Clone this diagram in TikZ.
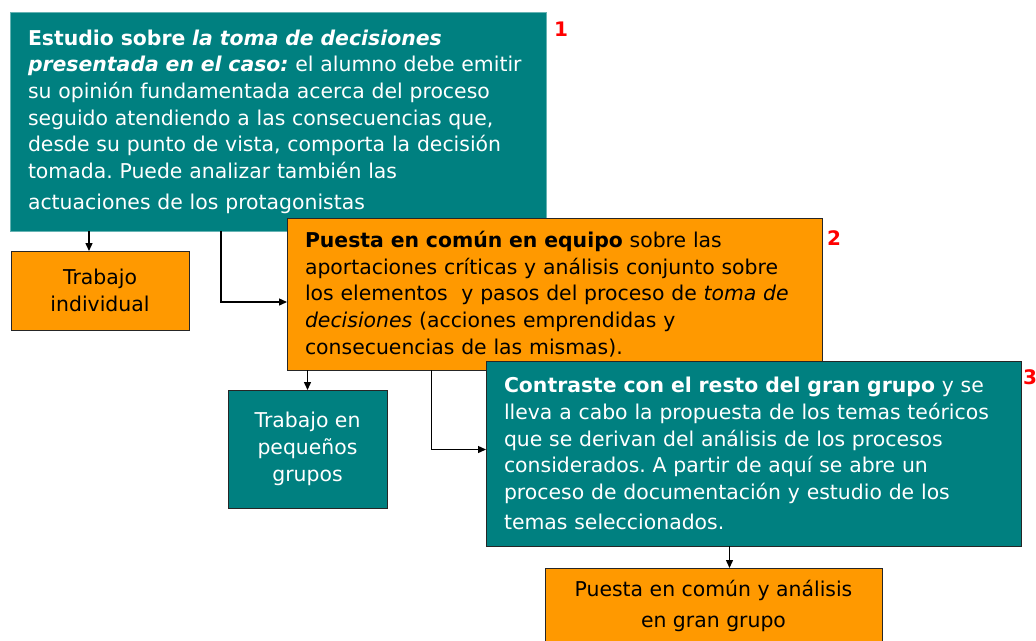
\documentclass[tikz,border=0pt]{standalone}
\usepackage{fontspec}
\setmainfont{DejaVu Sans}
\usepackage{xcolor}
\usepackage{tikz}
\usetikzlibrary{positioning,arrows.meta}
\definecolor{tealbg}{RGB}{0,128,128}
\definecolor{orangebg}{RGB}{255,153,0}
\definecolor{numred}{RGB}{255,0,0}
\frenchspacing

\begin{document}
\begin{tikzpicture}[x=1pt,y=-1pt,
    txt/.style={font=\fontsize{20.4}{26.7}\selectfont},
    bigbox/.style={txt, anchor=north west, align=left, inner xsep=18pt, inner ysep=0pt, outer sep=0pt},
    smallbox/.style={txt, anchor=north west, align=center, inner sep=0pt, outer sep=0pt, draw=black!85, line width=1pt},
    tealbox/.style={fill=tealbg, text=white},
    orangebox/.style={fill=orangebg, text=black},
    num/.style={text=numred, font=\fontsize{20}{24}\bfseries\selectfont, inner sep=0pt},
    arr/.style={line width=1.4pt, -{Triangle[length=8pt,width=7pt]}}]
    \useasboundingbox (0,0) rectangle (1036,640);
    \clip (0,0) rectangle (1036,640);
    \node[bigbox, tealbox, draw=tealbg!60!white, line width=0.8pt, text width=500pt, minimum height=219pt] (estudio) at (10,12)
        {\textbf{Estudio sobre \textit{la toma de decisiones}}\\
         \textbf{\textit{presentada en el caso:}} el alumno debe emitir\\
         su opinión fundamentada acerca del proceso\\
         seguido atendiendo a las consecuencias que,\\
         desde su punto de vista, comporta la decisión\\
         tomada. Puede analizar también las\\[4pt]
         actuaciones de los protagonistas};
    \node[num, anchor=west] (num1) at (554,29) {1};
    \node[smallbox, orangebox, minimum width=178pt, minimum height=79pt] (indiv) at (11,251) {Trabajo\\individual};
    \node[bigbox, orangebox, draw=black!85, line width=1pt, text width=499pt, minimum height=152pt] (puesta) at (287,218)
        {\textbf{Puesta en común en equipo} sobre las\\
         aportaciones críticas y análisis conjunto sobre\\
         los elementos\ \ y pasos del proceso de \textit{toma de}\\
         \textit{decisiones} (acciones emprendidas y\\
         consecuencias de las mismas).};
    \node[num, anchor=west] (num2) at (827,238) {2};
    \node[smallbox, tealbox, minimum width=159pt, minimum height=118pt] (pequenos) at (228,390) {Trabajo en\\pequeños\\grupos};
    \node[bigbox, tealbox, draw=black!85, line width=1pt, text width=499pt, minimum height=185pt] (contraste) at (486,361)
        {\textbf{Contraste con el resto del gran grupo} y se\\
         lleva a cabo la propuesta de los temas teóricos\\
         que se derivan del análisis de los procesos\\
         considerados. A partir de aquí se abre un\\
         proceso de documentación y estudio de los\\[3pt]
         temas seleccionados.};
    \node[num, anchor=west] (num3) at (1023,377) {3};
    \node[smallbox, orangebox, minimum width=337pt, minimum height=76pt] (grangrupo) at (545,568) {Puesta en común y análisis\\[5pt]en gran grupo};
    \draw[arr] ([xshift=-11pt]indiv.north |- estudio.south) -- ([xshift=-11pt]indiv.north);
    \draw[arr] ([xshift=-57pt]estudio.south) |- ([yshift=-8pt]puesta.west);
    \draw[arr] (pequenos.north |- puesta.south) -- (pequenos.north);
    \draw[arr] ([xshift=-123pt]puesta.south) |- ([yshift=4pt]contraste.west);
    \draw[arr] ([xshift=16pt]grangrupo.north |- contraste.south) -- ([xshift=16pt]grangrupo.north);
\end{tikzpicture}
\end{document}
